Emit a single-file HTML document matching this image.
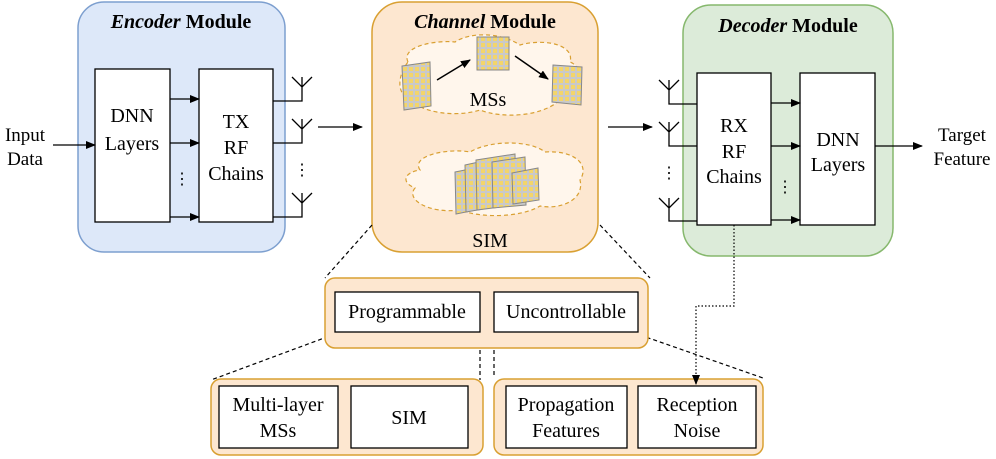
<!DOCTYPE html>
<html><head><meta charset="utf-8"><style>
html,body{margin:0;padding:0;background:#fff;}
svg{display:block;font-family:"Liberation Serif",serif;}
</style></head><body>
<svg width="996" height="459" viewBox="0 0 996 459" xmlns="http://www.w3.org/2000/svg">
<defs>
<marker id="ah" markerWidth="10" markerHeight="8" refX="9" refY="4" orient="auto" markerUnits="userSpaceOnUse"><path d="M0,0 L10,4 L0,8 Z" fill="#000"/></marker>
<pattern id="grid" width="6" height="6" patternUnits="userSpaceOnUse"><rect width="6" height="6" fill="#c9c9c9"/><rect x="1" y="1" width="4" height="4" fill="#f3d56a"/></pattern>
</defs>
<!-- Encoder -->
<rect x="78" y="2" width="207" height="250" rx="26" fill="#dde8f9" stroke="#7d9fcf" stroke-width="1.5"/>
<text x="181" y="28" font-size="20" text-anchor="middle" font-weight="bold"><tspan font-style="italic">Encoder</tspan> Module</text>
<rect x="95" y="69" width="75" height="153" fill="#fff" stroke="#000" stroke-width="1.3"/>
<text x="132" y="122" font-size="20" text-anchor="middle">DNN</text>
<text x="132" y="150" font-size="20" text-anchor="middle">Layers</text>
<rect x="199" y="69" width="74" height="153" fill="#fff" stroke="#000" stroke-width="1.3"/>
<text x="236" y="128" font-size="20" text-anchor="middle">TX</text>
<text x="236" y="154" font-size="20" text-anchor="middle">RF</text>
<text x="236" y="180" font-size="20" text-anchor="middle">Chains</text>
<g stroke="#000" stroke-width="1.3" fill="none">
<line x1="53" y1="145" x2="95" y2="145" marker-end="url(#ah)"/>
<line x1="170" y1="99" x2="199" y2="99" marker-end="url(#ah)"/>
<line x1="170" y1="143" x2="199" y2="143" marker-end="url(#ah)"/>
<line x1="170" y1="217" x2="199" y2="217" marker-end="url(#ah)"/>
<path d="M273,101 H302 V77 M292,77 L302,87 L312,77"/>
<path d="M273,143 H302 V119 M292,119 L302,129 L312,119"/>
<path d="M273,217 H302 V193 M292,193 L302,203 L312,193"/>
<line x1="318" y1="127" x2="362" y2="127" marker-end="url(#ah)"/>
<line x1="608" y1="127" x2="652" y2="127" marker-end="url(#ah)"/>
</g>
<text x="182" y="184" font-size="16" text-anchor="middle">⋮</text>
<text x="302" y="175" font-size="16" text-anchor="middle">⋮</text>
<text x="25" y="141" font-size="19" text-anchor="middle">Input</text>
<text x="25" y="165" font-size="19" text-anchor="middle">Data</text>
<!-- Channel -->
<rect x="372" y="2" width="226" height="250" rx="30" fill="#fde7d0" stroke="#d9a032" stroke-width="1.5"/>
<text x="485" y="28" font-size="20" text-anchor="middle" font-weight="bold"><tspan font-style="italic">Channel</tspan> Module</text>
<path d="M408,62 C400,45 440,40 455,42 C470,32 500,32 520,45 C545,38 575,45 570,62 C590,70 580,105 560,100 C540,118 500,118 480,110 C455,118 420,112 412,100 C395,95 398,75 408,62 Z" fill="#fff6ec" stroke="#d9a032" stroke-width="1.2" stroke-dasharray="4,3"/>
<path d="M420,170 C410,155 450,148 470,152 C490,140 530,140 545,152 C575,150 590,165 580,180 C585,200 560,210 540,206 C520,218 480,218 460,210 C430,214 405,200 415,188 C400,182 405,172 420,170 Z" fill="#fff6ec" stroke="#d9a032" stroke-width="1.2" stroke-dasharray="4,3"/>
<g stroke="#888" stroke-width="1">
<polygon points="402,66 430,62 431,106 404,110" fill="url(#grid)"/>
<rect x="477" y="37" width="32" height="33" fill="url(#grid)"/>
<polygon points="553,65 582,67 581,105 552,102" fill="url(#grid)"/>
<polygon points="455,172 475,168 476,210 456,214" fill="url(#grid)"/>
<polygon points="465,165 488,160 489,208 466,212" fill="url(#grid)"/>
<polygon points="476,160 515,154 516,205 477,210" fill="url(#grid)"/>
<polygon points="492,162 525,157 526,205 493,208" fill="url(#grid)"/>
<polygon points="512,173 538,168 539,200 513,204" fill="url(#grid)"/>
</g>
<g stroke="#000" stroke-width="1.5">
<line x1="437" y1="80" x2="470" y2="60" marker-end="url(#ah)"/>
<line x1="515" y1="56" x2="548" y2="79" marker-end="url(#ah)"/>
</g>
<text x="488" y="106" font-size="20" text-anchor="middle">MSs</text>
<text x="490" y="247" font-size="20" text-anchor="middle">SIM</text>
<!-- Decoder -->
<rect x="683" y="5" width="210" height="251" rx="28" fill="#dcebd9" stroke="#86b86d" stroke-width="1.5"/>
<text x="788" y="32" font-size="20" text-anchor="middle" font-weight="bold"><tspan font-style="italic">Decoder</tspan> Module</text>
<rect x="697" y="73" width="74" height="152" fill="#fff" stroke="#000" stroke-width="1.3"/>
<text x="734" y="132" font-size="20" text-anchor="middle">RX</text>
<text x="734" y="158" font-size="20" text-anchor="middle">RF</text>
<text x="734" y="183" font-size="20" text-anchor="middle">Chains</text>
<rect x="800" y="73" width="75" height="152" fill="#fff" stroke="#000" stroke-width="1.3"/>
<text x="838" y="146" font-size="20" text-anchor="middle">DNN</text>
<text x="838" y="171" font-size="20" text-anchor="middle">Layers</text>
<g stroke="#000" stroke-width="1.3" fill="none">
<path d="M697,104 H669 V80 M659,80 L669,90 L679,80"/>
<path d="M697,146 H669 V122 M659,122 L669,132 L679,122"/>
<path d="M697,221 H669 V198 M659,198 L669,208 L679,198"/>
<line x1="771" y1="103" x2="800" y2="103" marker-end="url(#ah)"/>
<line x1="771" y1="146" x2="800" y2="146" marker-end="url(#ah)"/>
<line x1="771" y1="220" x2="800" y2="220" marker-end="url(#ah)"/>
<line x1="875" y1="146" x2="922" y2="146" marker-end="url(#ah)"/>
</g>
<text x="669" y="178" font-size="16" text-anchor="middle">⋮</text>
<text x="785" y="192" font-size="16" text-anchor="middle">⋮</text>
<text x="962" y="141" font-size="19" text-anchor="middle">Target</text>
<text x="962" y="165" font-size="19" text-anchor="middle">Feature</text>
<!-- Bottom -->
<g stroke="#000" stroke-width="1.2" stroke-dasharray="4,3" fill="none">
<line x1="372" y1="225" x2="325" y2="278"/>
<line x1="600" y1="225" x2="650" y2="278"/>
<line x1="335" y1="334" x2="211" y2="380"/>
<line x1="480" y1="336" x2="480" y2="380"/>
<line x1="494" y1="336" x2="494" y2="378"/>
<line x1="640" y1="335" x2="763" y2="378"/>
</g>
<rect x="325" y="278" width="323" height="70" rx="10" fill="#fde7d0" stroke="#d9a032" stroke-width="1.5"/>
<rect x="335" y="292" width="145" height="40" fill="#fff" stroke="#000" stroke-width="1.3"/>
<text x="407" y="318" font-size="20" text-anchor="middle">Programmable</text>
<rect x="494" y="292" width="144" height="40" fill="#fff" stroke="#000" stroke-width="1.3"/>
<text x="566" y="318" font-size="20" text-anchor="middle">Uncontrollable</text>
<rect x="211" y="379" width="272" height="76" rx="10" fill="#fde7d0" stroke="#d9a032" stroke-width="1.5"/>
<rect x="219" y="386" width="119" height="62" fill="#fff" stroke="#000" stroke-width="1.3"/>
<text x="278" y="411" font-size="20" text-anchor="middle">Multi-layer</text>
<text x="278" y="437" font-size="20" text-anchor="middle">MSs</text>
<rect x="351" y="386" width="117" height="62" fill="#fff" stroke="#000" stroke-width="1.3"/>
<text x="409" y="424" font-size="20" text-anchor="middle">SIM</text>
<rect x="494" y="379" width="269" height="76" rx="10" fill="#fde7d0" stroke="#d9a032" stroke-width="1.5"/>
<rect x="506" y="386" width="121" height="62" fill="#fff" stroke="#000" stroke-width="1.3"/>
<text x="566" y="411" font-size="20" text-anchor="middle">Propagation</text>
<text x="566" y="437" font-size="20" text-anchor="middle">Features</text>
<rect x="638" y="386" width="118" height="62" fill="#fff" stroke="#000" stroke-width="1.3"/>
<text x="697" y="411" font-size="20" text-anchor="middle">Reception</text>
<text x="697" y="437" font-size="20" text-anchor="middle">Noise</text>
<path d="M734,225 V306 H696 V384" stroke="#000" stroke-width="1.2" stroke-dasharray="1.5,2" fill="none" marker-end="url(#ah)"/>
</svg>
</body></html>
